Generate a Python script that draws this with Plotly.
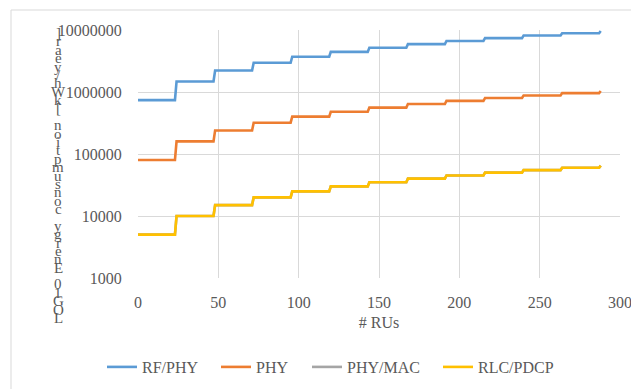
import plotly.graph_objects as go

# ---- data ----
step_start = [0, 24, 48, 72, 96, 120, 144, 168, 192, 216, 240, 264, 288]
step_end = [23, 47, 71, 95, 119, 143, 167, 191, 215, 239, 263, 287, 288]

rf_phy = [740000, 1480000, 2220000, 2960000, 3700000, 4440000, 5180000,
          5920000, 6660000, 7400000, 8140000, 8880000, 9620000]
phy = [80000, 160000, 240000, 320000, 400000, 480000, 560000,
       640000, 720000, 800000, 880000, 960000, 1040000]
phy_mac = [5000, 10000, 15000, 20000, 25000, 30000, 35000,
           40000, 45000, 50000, 55000, 60000, 65000]
rlc_pdcp = [5000, 10000, 15000, 20000, 25000, 30000, 35000,
            40000, 45000, 50000, 55000, 60000, 65000]

y_tickvals = [1000, 10000, 100000, 1000000, 10000000]
y_ticktext = ["1000", "10000", "100000", "1000000", "10000000"]
x_tickvals = [0, 50, 100, 150, 200, 250, 300]

y_title = "LOG10 Energy consumption [kWh/year]"
x_title = "# RUs"

series = [
    ("RF/PHY", rf_phy, "#5B9BD5"),
    ("PHY", phy, "#ED7D31"),
    ("PHY/MAC", phy_mac, "#A5A5A5"),
    ("RLC/PDCP", rlc_pdcp, "#FFC000"),
]

# page body has an 8px margin: figure origin sits at (8, 8) of the window
OFF = 8
FW, FH = 639, 389
# plot-area in window pixels
PL, PR, PT, PB = 138, 620, 30, 278
L, T = PL - OFF, PT - OFF
R, B = FW - (PR - OFF), FH - (PB - OFF)
W, H = PR - PL, PB - PT


def px_x(p):  # window pixel -> paper x
    return (p - PL) / W


def px_y(p):  # window pixel -> paper y
    return (PB - p) / H


def stepped(levels):
    xs, ys = [], []
    for s, e, v in zip(step_start, step_end, levels):
        xs += [s, e]
        ys += [v, v]
    return xs, ys


FONT = "Liberation Serif, Times New Roman, serif"
GRAY = "#595959"
GRID = "#D9D9D9"

legend_names = ["legend", "legend2", "legend3", "legend4"]
legend_line_px = [108, 222, 313, 444]

fig = go.Figure()
for (name, vals, color), lg in zip(series, legend_names):
    xs, ys = stepped(vals)
    fig.add_trace(go.Scatter(x=xs, y=ys, mode="lines", name=name, legend=lg,
                             line=dict(color=color, width=2.6)))

layout_legends = {}
for lg, lp in zip(legend_names, legend_line_px):
    layout_legends[lg] = dict(
        orientation="h", x=px_x(lp - 6), xanchor="left",
        y=px_y(367), yanchor="middle",
        font=dict(family=FONT, size=16, color=GRAY),
        bgcolor="rgba(0,0,0,0)",
    )

fig.update_layout(
    width=FW, height=FH,
    margin=dict(l=L, r=R, t=T, b=B),
    paper_bgcolor="white", plot_bgcolor="white",
    font=dict(family=FONT, size=16, color=GRAY),
    showlegend=True,
    **layout_legends,
)

fig.update_xaxes(
    range=[0, 300], tickvals=x_tickvals, automargin=False,
    showgrid=True, gridcolor=GRID, gridwidth=1,
    zeroline=False, showline=False,
    ticks="outside", ticklen=10, tickcolor="rgba(0,0,0,0)",
    tickfont=dict(family=FONT, size=16, color=GRAY),
    title=dict(text=x_title, font=dict(family=FONT, size=16, color=GRAY), standoff=6),
)
fig.update_yaxes(
    type="log", range=[3, 7], tickvals=y_tickvals, ticktext=y_ticktext,
    automargin=False,
    showgrid=True, gridcolor=GRID, gridwidth=1,
    zeroline=False, showline=False,
    ticks="outside", ticklen=12, tickcolor="rgba(0,0,0,0)",
    tickfont=dict(family=FONT, size=16, color=GRAY),
)

# stacked vertical y-axis title (upright glyphs, reading bottom to top)
y_bottom_px, y_top_px = 318, 33
n = len(y_title)
for i, ch in enumerate(y_title):
    if ch == " ":
        continue
    py = y_bottom_px + (y_top_px - y_bottom_px) * i / (n - 1)
    fig.add_annotation(
        text=ch, xref="paper", yref="paper",
        x=px_x(58), y=px_y(py),
        xanchor="center", yanchor="middle", showarrow=False,
        font=dict(family=FONT, size=15, color=GRAY),
    )

# chart-area border (top and left visible)
fig.add_shape(type="line", xref="paper", yref="paper",
              x0=px_x(11), x1=px_x(660), y0=px_y(10), y1=px_y(10),
              line=dict(color=GRID, width=1))
fig.add_shape(type="line", xref="paper", yref="paper",
              x0=px_x(11), x1=px_x(11), y0=px_y(10), y1=px_y(400),
              line=dict(color=GRID, width=1))

fig.write_html("out.html")
